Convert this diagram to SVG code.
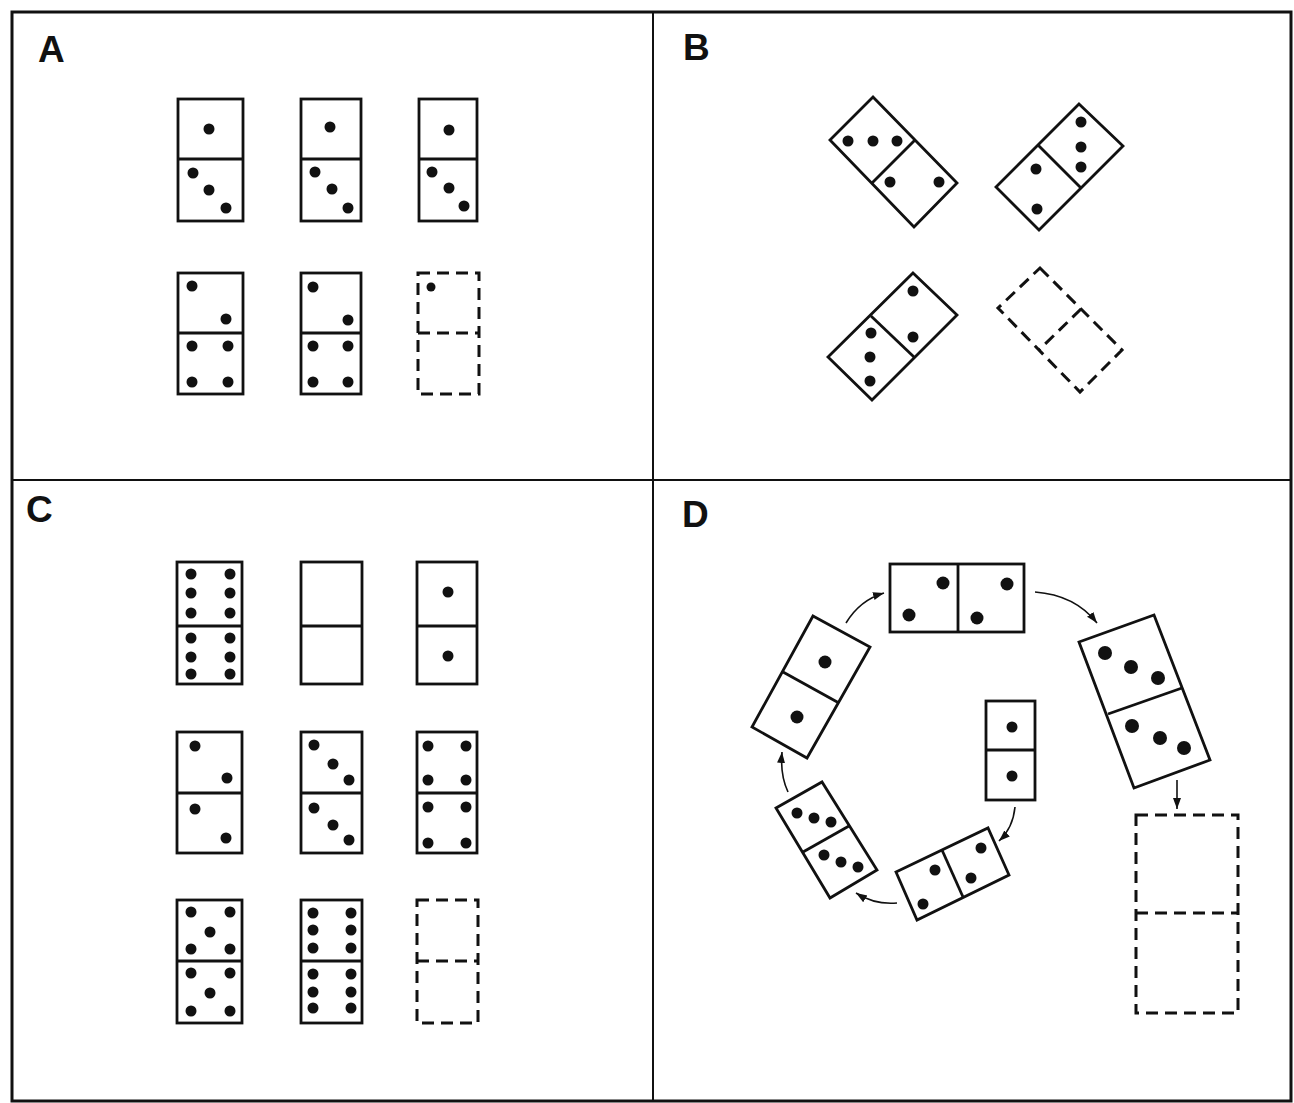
<svg xmlns="http://www.w3.org/2000/svg" width="1294" height="1103" viewBox="0 0 1294 1103">
<style>
.frame{fill:none;stroke:#111;stroke-width:3}
.div{stroke:#111;stroke-width:2}
.dom{fill:none;stroke:#111;stroke-width:2.8;stroke-linejoin:miter}
.dash{stroke-dasharray:12 7;stroke-width:3}
.pip{fill:#111}
.lbl{font-family:"Liberation Sans",Arial,sans-serif;font-weight:bold;font-size:37px;fill:#111}
.arr{fill:none;stroke:#111;stroke-width:1.6}
</style>
<defs>
<marker id="ah" markerUnits="userSpaceOnUse" markerWidth="12" markerHeight="10" refX="11" refY="4" orient="auto">
<path d="M0,0 L11,4 L0,8 z" fill="#111"/>
</marker>
</defs>
<rect width="1294" height="1103" fill="#fff"/>
<rect class="frame" x="12" y="12" width="1279" height="1089"/>
<line class="div" x1="653" y1="12" x2="653" y2="1101"/>
<line class="div" x1="12" y1="480" x2="1291" y2="480"/>
<text class="lbl" x="38" y="62">A</text>
<text class="lbl" x="683" y="60">B</text>
<text class="lbl" x="26" y="522">C</text>
<text class="lbl" x="682" y="527">D</text>

<!-- Panel A -->
<g id="a1"><rect class="dom" x="178" y="99" width="65" height="122"/><line class="dom" x1="178" y1="159" x2="243" y2="159"/>
<circle class="pip" cx="209" cy="129" r="5.5"/><circle class="pip" cx="193" cy="173" r="5.5"/><circle class="pip" cx="209" cy="190" r="5.5"/><circle class="pip" cx="226" cy="208" r="5.5"/></g>
<g id="a2"><rect class="dom" x="301" y="99" width="60" height="122"/><line class="dom" x1="301" y1="159" x2="361" y2="159"/>
<circle class="pip" cx="330" cy="127" r="5.5"/><circle class="pip" cx="315" cy="172" r="5.5"/><circle class="pip" cx="332" cy="189" r="5.5"/><circle class="pip" cx="348" cy="208" r="5.5"/></g>
<g id="a3"><rect class="dom" x="419" y="99" width="58" height="122"/><line class="dom" x1="419" y1="159" x2="477" y2="159"/>
<circle class="pip" cx="449" cy="130" r="5.5"/><circle class="pip" cx="432" cy="172" r="5.5"/><circle class="pip" cx="449" cy="188" r="5.5"/><circle class="pip" cx="464" cy="206" r="5.5"/></g>
<g id="a4"><rect class="dom" x="178" y="273" width="65" height="121"/><line class="dom" x1="178" y1="333" x2="243" y2="333"/>
<circle class="pip" cx="192" cy="286" r="5.5"/><circle class="pip" cx="226" cy="319" r="5.5"/><circle class="pip" cx="192" cy="346" r="5.5"/><circle class="pip" cx="228" cy="346" r="5.5"/><circle class="pip" cx="192" cy="382" r="5.5"/><circle class="pip" cx="228" cy="382" r="5.5"/></g>
<g id="a5"><rect class="dom" x="301" y="273" width="60" height="121"/><line class="dom" x1="301" y1="333" x2="361" y2="333"/>
<circle class="pip" cx="313" cy="287" r="5.5"/><circle class="pip" cx="348" cy="320" r="5.5"/><circle class="pip" cx="313" cy="346" r="5.5"/><circle class="pip" cx="348" cy="346" r="5.5"/><circle class="pip" cx="313" cy="382" r="5.5"/><circle class="pip" cx="348" cy="382" r="5.5"/></g>
<g id="a6"><rect class="dom dash" x="418" y="273" width="61" height="121"/><line class="dom dash" x1="418" y1="333" x2="479" y2="333"/>
<circle class="pip" cx="431" cy="287" r="4.5"/></g>

<!-- Panel B -->
<g id="b1"><polygon class="dom" points="873,97 957,183 914,227 830,140"/><line class="dom" x1="915" y1="140" x2="872" y2="183"/>
<circle class="pip" cx="848" cy="141" r="5.5"/><circle class="pip" cx="873" cy="141" r="5.5"/><circle class="pip" cx="897" cy="141" r="5.5"/><circle class="pip" cx="890" cy="182" r="5.5"/><circle class="pip" cx="939" cy="182" r="5.5"/></g>
<g id="b2"><polygon class="dom" points="1079,104 1123,146 1039,230 996,187"/><line class="dom" x1="1038" y1="145" x2="1081" y2="188"/>
<circle class="pip" cx="1081" cy="122" r="5.5"/><circle class="pip" cx="1081" cy="147" r="5.5"/><circle class="pip" cx="1081" cy="167" r="5.5"/><circle class="pip" cx="1036" cy="169" r="5.5"/><circle class="pip" cx="1037" cy="209" r="5.5"/></g>
<g id="b3"><polygon class="dom" points="913,273 957,315 872,400 828,357"/><line class="dom" x1="871" y1="316" x2="914" y2="357"/>
<circle class="pip" cx="913" cy="291" r="5.5"/><circle class="pip" cx="913" cy="337" r="5.5"/><circle class="pip" cx="871" cy="333" r="5.5"/><circle class="pip" cx="870" cy="357" r="5.5"/><circle class="pip" cx="870" cy="381" r="5.5"/></g>
<g id="b4"><polygon class="dom dash" points="1040,268 1122,350 1080,392 998,308"/><line class="dom dash" x1="1081" y1="309" x2="1039" y2="350"/></g>

<!-- Panel C -->
<g id="c1"><rect class="dom" x="177" y="562" width="65" height="122"/><line class="dom" x1="177" y1="626" x2="242" y2="626"/>
<circle class="pip" cx="191" cy="574" r="5.5"/><circle class="pip" cx="230" cy="574" r="5.5"/><circle class="pip" cx="191" cy="593" r="5.5"/><circle class="pip" cx="230" cy="593" r="5.5"/><circle class="pip" cx="191" cy="613" r="5.5"/><circle class="pip" cx="230" cy="613" r="5.5"/>
<circle class="pip" cx="191" cy="638" r="5.5"/><circle class="pip" cx="230" cy="638" r="5.5"/><circle class="pip" cx="191" cy="657" r="5.5"/><circle class="pip" cx="230" cy="657" r="5.5"/><circle class="pip" cx="191" cy="674" r="5.5"/><circle class="pip" cx="230" cy="674" r="5.5"/></g>
<g id="c2"><rect class="dom" x="301" y="562" width="61" height="122"/><line class="dom" x1="301" y1="626" x2="362" y2="626"/></g>
<g id="c3"><rect class="dom" x="417" y="562" width="60" height="122"/><line class="dom" x1="417" y1="626" x2="477" y2="626"/>
<circle class="pip" cx="448" cy="592" r="5.5"/><circle class="pip" cx="448" cy="656" r="5.5"/></g>
<g id="c4"><rect class="dom" x="177" y="732" width="65" height="121"/><line class="dom" x1="177" y1="793" x2="242" y2="793"/>
<circle class="pip" cx="195" cy="746" r="5.5"/><circle class="pip" cx="227" cy="778" r="5.5"/><circle class="pip" cx="195" cy="809" r="5.5"/><circle class="pip" cx="226" cy="838" r="5.5"/></g>
<g id="c5"><rect class="dom" x="301" y="732" width="61" height="121"/><line class="dom" x1="301" y1="793" x2="362" y2="793"/>
<circle class="pip" cx="314" cy="745" r="5.5"/><circle class="pip" cx="333" cy="764" r="5.5"/><circle class="pip" cx="349" cy="780" r="5.5"/><circle class="pip" cx="314" cy="808" r="5.5"/><circle class="pip" cx="333" cy="825" r="5.5"/><circle class="pip" cx="349" cy="840" r="5.5"/></g>
<g id="c6"><rect class="dom" x="417" y="732" width="60" height="121"/><line class="dom" x1="417" y1="793" x2="477" y2="793"/>
<circle class="pip" cx="428" cy="746" r="5.5"/><circle class="pip" cx="466" cy="746" r="5.5"/><circle class="pip" cx="428" cy="780" r="5.5"/><circle class="pip" cx="466" cy="780" r="5.5"/><circle class="pip" cx="428" cy="807" r="5.5"/><circle class="pip" cx="466" cy="807" r="5.5"/><circle class="pip" cx="428" cy="843" r="5.5"/><circle class="pip" cx="466" cy="843" r="5.5"/></g>
<g id="c7"><rect class="dom" x="177" y="900" width="65" height="123"/><line class="dom" x1="177" y1="961" x2="242" y2="961"/>
<circle class="pip" cx="191" cy="912" r="5.5"/><circle class="pip" cx="230" cy="912" r="5.5"/><circle class="pip" cx="210" cy="932" r="5.5"/><circle class="pip" cx="191" cy="949" r="5.5"/><circle class="pip" cx="230" cy="949" r="5.5"/>
<circle class="pip" cx="191" cy="973" r="5.5"/><circle class="pip" cx="230" cy="973" r="5.5"/><circle class="pip" cx="210" cy="993" r="5.5"/><circle class="pip" cx="191" cy="1011" r="5.5"/><circle class="pip" cx="230" cy="1011" r="5.5"/></g>
<g id="c8"><rect class="dom" x="301" y="900" width="61" height="123"/><line class="dom" x1="301" y1="961" x2="362" y2="961"/>
<circle class="pip" cx="313" cy="913" r="5.5"/><circle class="pip" cx="351" cy="913" r="5.5"/><circle class="pip" cx="313" cy="930" r="5.5"/><circle class="pip" cx="351" cy="930" r="5.5"/><circle class="pip" cx="313" cy="948" r="5.5"/><circle class="pip" cx="351" cy="948" r="5.5"/>
<circle class="pip" cx="313" cy="974" r="5.5"/><circle class="pip" cx="351" cy="974" r="5.5"/><circle class="pip" cx="313" cy="992" r="5.5"/><circle class="pip" cx="351" cy="992" r="5.5"/><circle class="pip" cx="313" cy="1008" r="5.5"/><circle class="pip" cx="351" cy="1008" r="5.5"/></g>
<g id="c9"><rect class="dom dash" x="417" y="900" width="61" height="123"/><line class="dom dash" x1="417" y1="961" x2="478" y2="961"/></g>

<!-- Panel D -->
<g id="d1"><rect class="dom" x="890" y="564" width="134" height="68"/><line class="dom" x1="958" y1="564" x2="958" y2="632"/>
<circle class="pip" cx="943" cy="583" r="6.5"/><circle class="pip" cx="909" cy="615" r="6.5"/><circle class="pip" cx="1007" cy="584" r="6.5"/><circle class="pip" cx="977" cy="618" r="6.5"/></g>
<g id="d2"><polygon class="dom" points="1079,642 1154,615 1210,760 1134,788"/><line class="dom" x1="1108" y1="714" x2="1182" y2="688"/>
<circle class="pip" cx="1105" cy="653" r="7"/><circle class="pip" cx="1131" cy="667" r="7"/><circle class="pip" cx="1158" cy="678" r="7"/><circle class="pip" cx="1132" cy="726" r="7"/><circle class="pip" cx="1160" cy="738" r="7"/><circle class="pip" cx="1184" cy="748" r="7"/></g>
<g id="d3"><rect class="dom dash" x="1136" y="815" width="102" height="198"/><line class="dom dash" x1="1136" y1="913" x2="1238" y2="913"/></g>
<g id="d4"><rect class="dom" x="986" y="701" width="49" height="99"/><line class="dom" x1="986" y1="750" x2="1035" y2="750"/>
<circle class="pip" cx="1012" cy="727" r="5.5"/><circle class="pip" cx="1012" cy="776" r="5.5"/></g>
<g id="d5"><polygon class="dom" points="896,872 988,828 1009,875 917,920"/><line class="dom" x1="942" y1="850" x2="963" y2="897"/>
<circle class="pip" cx="935" cy="870" r="5.5"/><circle class="pip" cx="923" cy="904" r="5.5"/><circle class="pip" cx="981" cy="848" r="5.5"/><circle class="pip" cx="971" cy="878" r="5.5"/></g>
<g id="d6"><polygon class="dom" points="776,808 822,782 877,870 830,898"/><line class="dom" x1="803" y1="852" x2="849" y2="826"/>
<circle class="pip" cx="797" cy="813" r="5.5"/><circle class="pip" cx="814" cy="818" r="5.5"/><circle class="pip" cx="831" cy="822" r="5.5"/><circle class="pip" cx="824" cy="855" r="5.5"/><circle class="pip" cx="841" cy="862" r="5.5"/><circle class="pip" cx="858" cy="867" r="5.5"/></g>
<g id="d7"><polygon class="dom" points="813,616 870,647 807,758 752,727"/><line class="dom" x1="783" y1="672" x2="839" y2="703"/>
<circle class="pip" cx="825" cy="662" r="6.5"/><circle class="pip" cx="797" cy="717" r="6.5"/></g>

<g id="connectors">
<path class="arr" marker-end="url(#ah)" d="M846,623 Q860,600 884,593"/>
<path class="arr" marker-end="url(#ah)" d="M1035,592 Q1075,595 1097,623"/>
<path class="arr" marker-end="url(#ah)" d="M1177,780 L1177,809"/>
<path class="arr" marker-end="url(#ah)" d="M1015,807 Q1013,828 999,841"/>
<path class="arr" marker-end="url(#ah)" d="M897,903 Q875,905 856,893"/>
<path class="arr" marker-end="url(#ah)" d="M788,792 Q780,775 782,752"/>
</g>
</svg>
